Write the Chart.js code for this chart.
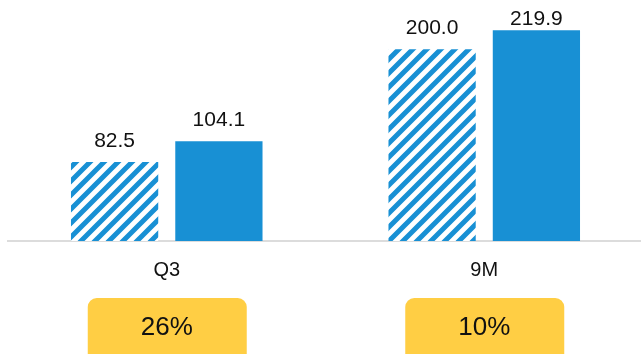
<!DOCTYPE html>
<html lang="en">
<head>
  <meta charset="UTF-8">
  <title>Q3 / 9M</title>
  <style>
    html, body { margin: 0; padding: 0; background: #fff; overflow: hidden; }
    #wrap { width: 643px; height: 354px; }
  </style>
</head>
<body>
<div id="wrap"><canvas id="myChart"></canvas></div>

<script src="https://cdn.jsdelivr.net/npm/chart.js@4"></script>
<script>
  // values
  var periods = ['Q3', '9M'];
  var prevYear = [82.5, 200.0];
  var thisYear = [104.1, 219.9];
  var growth = ['26%', '10%'];

  var blue = '#1890d4';
  var yellow = '#ffce44';
  var font = '"Liberation Sans", Arial, sans-serif';

  // diagonal stripes for the previous year bars
  function stripes() {
    var s = 14;
    var c = document.createElement('canvas');
    c.width = s; c.height = s;
    var g = c.getContext('2d');
    g.fillStyle = '#fff';
    g.fillRect(0, 0, s, s);
    g.strokeStyle = blue;
    g.lineWidth = 5;
    g.beginPath();
    g.moveTo(-s, 2 * s); g.lineTo(2 * s, -s);
    g.moveTo(-2 * s, 2 * s); g.lineTo(s, -s);
    g.moveTo(0, 2 * s); g.lineTo(3 * s, -s);
    g.stroke();
    return g.createPattern(c, 'repeat');
  }

  // numbers above bars + growth badges under the axis
  var extras = {
    id: 'extras',
    afterDatasetsDraw: function (chart) {
      var ctx = chart.ctx;
      ctx.save();
      ctx.fillStyle = '#111';
      ctx.font = '21px ' + font;
      ctx.textAlign = 'center';
      ctx.textBaseline = 'alphabetic';
      chart.data.datasets.forEach(function (ds, i) {
        chart.getDatasetMeta(i).data.forEach(function (bar, j) {
          var y = Math.max(bar.y - 15, 25);
          ctx.fillText(ds.data[j].toFixed(1), bar.x, y);
        });
      });

      var x = chart.scales.x;
      growth.forEach(function (txt, j) {
        var cx = x.getPixelForValue(j);
        ctx.fillStyle = yellow;
        ctx.beginPath();
        ctx.roundRect(cx - 79, 298, 159, 70, 9);
        ctx.fill();
        ctx.fillStyle = '#111';
        ctx.font = '26px ' + font;
        ctx.textBaseline = 'middle';
        ctx.fillText(txt, cx, 328);
      });
      ctx.restore();
    }
  };

  var ctx = document.getElementById('myChart');
  var chart = new Chart(ctx, {
    type: 'bar',
    data: {
      labels: periods,
      datasets: [{
        label: 'prev',
        data: prevYear,
        backgroundColor: stripes(),
        borderWidth: 0
      },
      {
        label: 'current',
        data: thisYear,
        backgroundColor: blue,
        borderWidth: 0
      }]
    },
    plugins: [extras],
    options: {
      responsive: true,
      maintainAspectRatio: false,
      animation: false,
      layout: { padding: { left: 8, right: 0, top: 0, bottom: 0 } },
      categoryPercentage: 0.657,
      barPercentage: 0.8365,
      plugins: {
        legend: { display: false },
        tooltip: { enabled: false }
      },
      scales: {
        x: {
          grid: { display: false },
          border: { display: true, color: '#dcdcdc', width: 2 },
          ticks: {
            color: '#111',
            padding: 9,
            font: { size: 20, family: font }
          },
          afterFit: function (axis) { axis.height = 113; }
        },
        y: {
          display: false,
          min: 0,
          max: 251.5
        }
      }
    }
  });
</script>
</body>
</html>
